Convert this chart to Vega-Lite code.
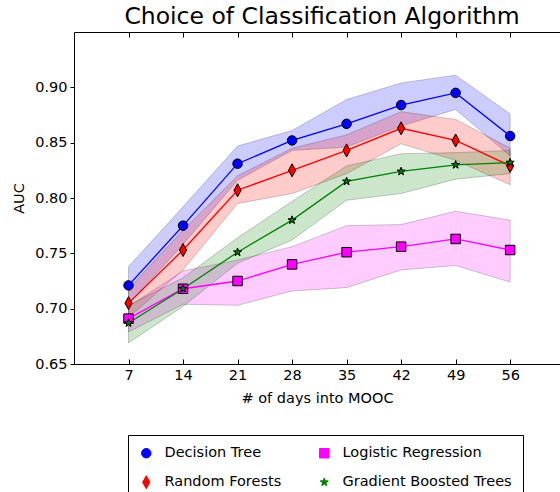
{
  "$schema": "https://vega.github.io/schema/vega-lite/v6.json",
  "width": 486,
  "height": 332,
  "autosize": {"type": "none"},
  "padding": {"left": 74, "top": 32, "right": 0, "bottom": 128},
  "config": {
    "font": "DejaVu Sans",
    "view": {"stroke": null},
    "axis": {"grid": false, "domainColor": "#000000", "tickColor": "#000000", "labelColor": "#000000", "titleColor": "#000000", "labelFontSize": 14.5, "titleFontSize": 14.5, "titleFontWeight": "normal", "domainWidth": 1, "tickWidth": 1}
  },
  "title": {"text": "Choice of Classification Algorithm", "fontSize": 23.5, "fontWeight": "normal", "color": "#000000", "anchor": "middle", "baseline": "alphabetic", "offset": -16, "dx": 5},
  "data": {"values": [
    {"model": "Decision Tree", "day": 7, "auc": 0.721, "lo": 0.704, "hi": 0.738},
    {"model": "Decision Tree", "day": 14, "auc": 0.775, "lo": 0.758, "hi": 0.792},
    {"model": "Decision Tree", "day": 21, "auc": 0.831, "lo": 0.816, "hi": 0.847},
    {"model": "Decision Tree", "day": 28, "auc": 0.852, "lo": 0.843, "hi": 0.861},
    {"model": "Decision Tree", "day": 35, "auc": 0.867, "lo": 0.846, "hi": 0.889},
    {"model": "Decision Tree", "day": 42, "auc": 0.884, "lo": 0.865, "hi": 0.904},
    {"model": "Decision Tree", "day": 49, "auc": 0.895, "lo": 0.880, "hi": 0.911},
    {"model": "Decision Tree", "day": 56, "auc": 0.856, "lo": 0.838, "hi": 0.876},
    {"model": "Random Forests", "day": 7, "auc": 0.705, "lo": 0.692, "hi": 0.718},
    {"model": "Random Forests", "day": 14, "auc": 0.753, "lo": 0.735, "hi": 0.771},
    {"model": "Random Forests", "day": 21, "auc": 0.807, "lo": 0.795, "hi": 0.820},
    {"model": "Random Forests", "day": 28, "auc": 0.825, "lo": 0.804, "hi": 0.845},
    {"model": "Random Forests", "day": 35, "auc": 0.843, "lo": 0.822, "hi": 0.857},
    {"model": "Random Forests", "day": 42, "auc": 0.863, "lo": 0.849, "hi": 0.878},
    {"model": "Random Forests", "day": 49, "auc": 0.852, "lo": 0.834, "hi": 0.871},
    {"model": "Random Forests", "day": 56, "auc": 0.829, "lo": 0.812, "hi": 0.845},
    {"model": "Logistic Regression", "day": 7, "auc": 0.691, "lo": 0.679, "hi": 0.702},
    {"model": "Logistic Regression", "day": 14, "auc": 0.718, "lo": 0.704, "hi": 0.734},
    {"model": "Logistic Regression", "day": 21, "auc": 0.725, "lo": 0.703, "hi": 0.744},
    {"model": "Logistic Regression", "day": 28, "auc": 0.740, "lo": 0.716, "hi": 0.756},
    {"model": "Logistic Regression", "day": 35, "auc": 0.751, "lo": 0.719, "hi": 0.775},
    {"model": "Logistic Regression", "day": 42, "auc": 0.756, "lo": 0.735, "hi": 0.776},
    {"model": "Logistic Regression", "day": 49, "auc": 0.763, "lo": 0.739, "hi": 0.788},
    {"model": "Logistic Regression", "day": 56, "auc": 0.753, "lo": 0.724, "hi": 0.780},
    {"model": "Gradient Boosted Trees", "day": 7, "auc": 0.687, "lo": 0.669, "hi": 0.703},
    {"model": "Gradient Boosted Trees", "day": 14, "auc": 0.718, "lo": 0.702, "hi": 0.728},
    {"model": "Gradient Boosted Trees", "day": 21, "auc": 0.751, "lo": 0.741, "hi": 0.764},
    {"model": "Gradient Boosted Trees", "day": 28, "auc": 0.780, "lo": 0.762, "hi": 0.797},
    {"model": "Gradient Boosted Trees", "day": 35, "auc": 0.815, "lo": 0.798, "hi": 0.829},
    {"model": "Gradient Boosted Trees", "day": 42, "auc": 0.824, "lo": 0.804, "hi": 0.840},
    {"model": "Gradient Boosted Trees", "day": 49, "auc": 0.830, "lo": 0.817, "hi": 0.841},
    {"model": "Gradient Boosted Trees", "day": 56, "auc": 0.832, "lo": 0.822, "hi": 0.843}
  ]},
  "resolve": {"axis": {"x": "independent"}},
  "layer": [
    {
      "mark": {"type": "area", "fillOpacity": 0.2, "stroke": "#000000", "strokeOpacity": 0.2, "strokeWidth": 1},
      "encoding": {
        "x": {"field": "day", "type": "quantitative", "scale": {"domain": [0, 62.4], "nice": false, "zero": false},
          "axis": {"orient": "bottom", "values": [7, 14, 21, 28, 35, 42, 49, 56], "tickSize": -5, "labelPadding": 9, "title": "# of days into MOOC", "titlePadding": 10}},
        "y": {"field": "lo", "type": "quantitative", "scale": {"domain": [0.65, 0.95], "nice": false, "zero": false},
          "axis": {"values": [0.65, 0.7, 0.75, 0.8, 0.85, 0.9], "format": ".2f", "tickSize": 4, "labelPadding": 3, "title": "AUC", "titlePadding": 8}},
        "y2": {"field": "hi"},
        "color": {"field": "model", "type": "nominal"}
      }
    },
    {
      "mark": {"type": "line", "strokeWidth": 1.3},
      "encoding": {
        "x": {"field": "day", "type": "quantitative",
          "axis": {"orient": "top", "values": [7, 14, 21, 28, 35, 42, 49, 56], "tickSize": -5, "labels": false, "title": null}},
        "y": {"field": "auc", "type": "quantitative"},
        "color": {"field": "model", "type": "nominal"}
      }
    },
    {
      "mark": {"type": "point", "filled": true, "opacity": 1, "stroke": "#000000", "strokeWidth": 1, "size": 90},
      "encoding": {
        "x": {"field": "day", "type": "quantitative", "axis": null},
        "y": {"field": "auc", "type": "quantitative"},
        "color": {"field": "model", "type": "nominal",
          "scale": {"domain": ["Decision Tree", "Random Forests", "Logistic Regression", "Gradient Boosted Trees"], "range": ["#0000ff", "#ff0000", "#ff00ff", "#008000"]},
          "legend": {"orient": "none", "legendX": 54, "legendY": 403, "columns": 2, "title": null, "strokeColor": "#000000", "fillColor": "#ffffff", "padding": 11, "labelFontSize": 14.5, "labelColor": "#000000", "labelOffset": 11, "labelLimit": 400, "rowPadding": 13, "columnPadding": 35, "symbolSize": 90, "symbolStrokeColor": "#000000", "symbolStrokeWidth": 1, "symbolOpacity": 1}},
        "shape": {"field": "model", "type": "nominal",
          "scale": {"domain": ["Decision Tree", "Random Forests", "Logistic Regression", "Gradient Boosted Trees"], "range": ["circle", "M0,-1.37L0.76,0L0,1.37L-0.76,0Z", "square", "M0,-0.9L0.212,-0.292L0.856,-0.278L0.342,0.112L0.529,0.728L0,0.36L-0.529,0.728L-0.342,0.112L-0.856,-0.278L-0.212,-0.292Z"]},
          "legend": {"orient": "none", "legendX": 54, "legendY": 403, "columns": 2, "title": null}}
      }
    }
  ]
}
